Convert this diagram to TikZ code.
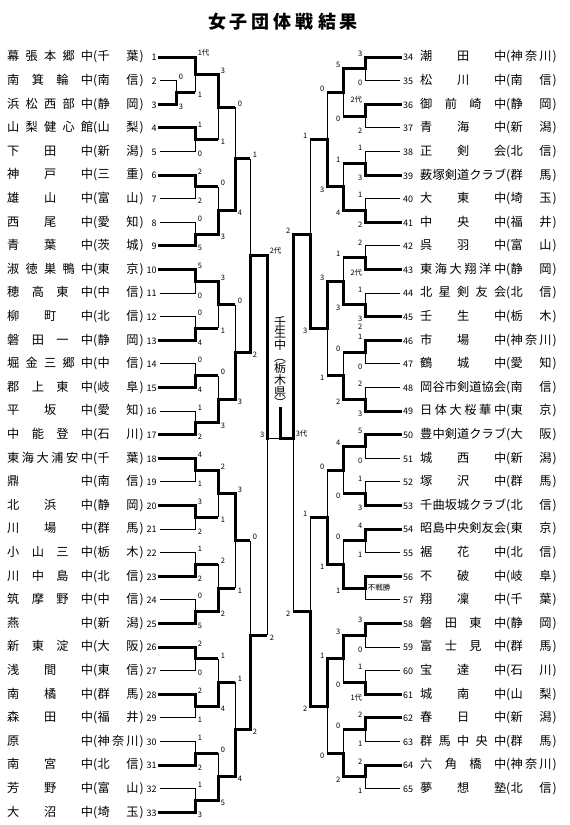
\documentclass[tikz,border=0pt]{standalone}
\usepackage{fontspec}
\newfontfamily\jp{Noto Sans CJK JP}
\usetikzlibrary{positioning}
\makeatletter
\newcommand\spreadbox[2]{\hbox to #1{\expandafter\spread@first#2\relax}}
\def\spread@first#1{\ifx\relax#1\else#1\expandafter\spread@rest\fi}
\def\spread@rest#1{\ifx\relax#1\else\hfil#1\expandafter\spread@rest\fi}
\makeatother
\newcommand\ry[1]{57+(#1)*23.6}
\newcommand\numfont{\fontsize{9}{9}\selectfont}

\begin{document}
\begin{tikzpicture}[x=1pt, y=-1pt, every node/.style={font=\jp, inner sep=0pt},
  winline/.style={line width=3pt, line cap=rect},
  winflat/.style={line width=3pt},
  loseline/.style={line width=0.8pt},
  teamname/.style={anchor=west, font=\jp\fontsize{12.2}{12.2}\selectfont},
  score/.style={inner sep=0.6pt, font=\jp\fontsize{7.5}{8}\selectfont},
  lup/.style={score, anchor=south west, xshift=2pt},
  ldn/.style={score, anchor=north west, xshift=2pt, yshift=1pt},
  rup/.style={score, anchor=south east, xshift=-2pt},
  rdn/.style={score, anchor=north east, xshift=-2pt, yshift=1pt},
  champ/.style={align=center, font=\jp\fontsize{12}{11.7}\selectfont}]
\useasboundingbox (0,0) rectangle (570,825);

\node[font=\jp\bfseries\fontsize{18}{18}\selectfont] (title) at (283,22) {\spreadbox{150pt}{女子団体戦結果}};

% left teams
\foreach \n/\nm/\pf in {1/幕張本郷中/千葉, 2/南箕輪中/南信, 3/浜松西部中/静岡, 4/山梨健心館/山梨,
    5/下田中/新潟, 6/神戸中/三重, 7/雄山中/富山, 8/西尾中/愛知, 9/青葉中/茨城, 10/淑徳巣鴨中/東京,
    11/穂高東中/中信, 12/柳町中/北信, 13/磐田一中/静岡, 14/堀金三郷中/中信, 15/郡上東中/岐阜,
    16/平坂中/愛知, 17/中能登中/石川, 18/東海大浦安中/千葉, 19/鼎中/南信, 20/北浜中/静岡,
    21/川場中/群馬, 22/小山三中/栃木, 23/川中島中/北信, 24/筑摩野中/中信, 25/燕中/新潟,
    26/新東淀中/大阪, 27/浅間中/東信, 28/南橘中/群馬, 29/森田中/福井, 30/原中/神奈川,
    31/南宮中/北信, 32/芳野中/富山, 33/大沼中/埼玉} {
  \node[teamname] (t\n) at (7,{\ry{\n-1}}) {\hbox{\spreadbox{86pt}{\nm}\hbox to 4.5pt{(\hss}\spreadbox{41pt}{\pf}\hbox to 6pt{\hss)\hss}\hbox to 12pt{\hss\numfont\n}}};
  \coordinate (L\n) at ([xshift=3pt]t\n.east);
}
% right teams
\foreach \n/\nm/\pf in {34/潮田中/神奈川, 35/松川中/南信, 36/御前崎中/静岡, 37/青海中/新潟,
    38/正剣会/北信, 39/薮塚剣道クラブ/群馬, 40/大東中/埼玉, 41/中央中/福井, 42/呉羽中/富山,
    43/東海大翔洋中/静岡, 44/北星剣友会/北信, 45/壬生中/栃木, 46/市場中/神奈川, 47/鶴城中/愛知,
    48/岡谷市剣道協会/南信, 49/日体大桜華中/東京, 50/豊中剣道クラブ/大阪, 51/城西中/新潟,
    52/塚沢中/群馬, 53/千曲坂城クラブ/北信, 54/昭島中央剣友会/東京, 55/裾花中/北信,
    56/不破中/岐阜, 57/翔凜中/千葉, 58/磐田東中/静岡, 59/富士見中/群馬, 60/宝達中/石川,
    61/城南中/山梨, 62/春日中/新潟, 63/群馬中央中/群馬, 64/六角橋中/神奈川, 65/夢想塾/北信} {
  \node[teamname] (r\n) at (403,{\ry{\n-34}}) {\hbox{\hbox to 17pt{\numfont\n\hss}\spreadbox{86pt}{\nm}\hbox to 4.5pt{(\hss}\spreadbox{41pt}{\pf}\hbox to 6pt{\hss)\hss}}};
  \coordinate (R\n) at ([xshift=-3pt]r\n.west);
}

% match points, left
\coordinate (P23) at (176,{\ry{1.5}});
\coordinate (A1) at (195,{\ry{0.75}});
\foreach \k in {2,...,16} \coordinate (A\k) at (195,{\ry{2*\k-0.5}});
\coordinate (B1) at (218,{\ry{2.125}});
\foreach \k in {2,...,8} \coordinate (B\k) at (218,{\ry{4*\k-1.5}});
\coordinate (C1) at (235,{\ry{4.3125}});
\foreach \k in {2,...,4} \coordinate (C\k) at (235,{\ry{8*\k-3.5}});
\coordinate (D1) at (250,{\ry{8.40625}});
\coordinate (D2) at (250,{\ry{24.5}});
\coordinate (E) at (267,438);
\coordinate (F) at (280,438);
% match points, right
\foreach \k in {1,...,16} \coordinate (a\k) at (365,{\ry{2*\k-1.5}});
\foreach \k in {1,...,8} \coordinate (b\k) at (343,{\ry{4*\k-2.5}});
\foreach \k in {1,...,4} \coordinate (c\k) at (327,{\ry{8*\k-4.5}});
\foreach \k in {1,2} \coordinate (d\k) at (310,{\ry{16*\k-8.5}});
\coordinate (e) at (293,438);

% lines of teams that lost their first bout
\foreach \a/\b in {L2/P23, L5/A2, L7/A3, L8/A4, L11/A5, L12/A6, L14/A7, L16/A8, L19/A9, L21/A10,
    L22/A11, L24/A12, L27/A13, L29/A14, L30/A15, L32/A16,
    R35/a1, R37/a2, R38/a3, R40/a4, R42/a5, R44/a6, R47/a7, R48/a8, R51/a9, R52/a10,
    R55/a11, R57/a12, R59/a13, R60/a14, R63/a15, R65/a16}
  \draw[loseline] (\a) -| (\b);
% winners
\foreach \a/\b in {L3/P23, L1/A1, L4/A2, L6/A3, L9/A4, L10/A5, L13/A6, L15/A7, L17/A8, L18/A9,
    L20/A10, L23/A11, L25/A12, L26/A13, L28/A14, L31/A15, L33/A16,
    A1/B1, A4/B2, A5/B3, A8/B4, A9/B5, A12/B6, A14/B7, A16/B8,
    B2/C1, B4/C2, B5/C3, B8/C4, C2/D1, C4/D2, D1/E,
    R34/a1, R36/a2, R39/a3, R41/a4, R43/a5, R45/a6, R46/a7, R49/a8, R50/a9, R53/a10,
    R54/a11, R56/a12, R58/a13, R61/a14, R62/a15, R64/a16,
    a1/b1, a4/b2, a6/b3, a8/b4, a9/b5, a12/b6, a13/b7, a16/b8,
    b2/c1, b3/c2, b6/c3, b7/c4, c2/d1, c4/d2, d1/e}
  \draw[winline] (\a) -| (\b);
% won before, lost here
\foreach \a/\b in {P23/A1, A2/B1, A3/B2, A6/B3, A7/B4, A10/B5, A11/B6, A13/B7, A15/B8,
    B1/C1, B3/C2, B6/C3, B7/C4, C1/D1, C3/D2, D2/E,
    a2/b1, a3/b2, a5/b3, a7/b4, a10/b5, a11/b6, a14/b7, a15/b8,
    b1/c1, b4/c2, b5/c3, b8/c4, c1/d1, c3/d2, d2/e} {
  \draw[winflat] (\a) -- (\a -| \b);
  \draw[loseline] (\a -| \b) -- (\b);
}

% final
\node[champ] (champ) at (280,362) {壬\\生\\中\\︵\\栃\\木\\県\\︶};
\draw[loseline] (E) -- (F);
\draw[winline] (e) -- (F) -- (champ);

% scores
\foreach \a/\b/\t in {L2/P23/0, L1/A1/1代, L4/A2/1, L6/A3/2, L8/A4/0, L10/A5/5, L12/A6/0, L14/A7/0,
    L16/A8/1, L18/A9/4, L20/A10/3, L22/A11/1, L24/A12/0, L26/A13/2, L28/A14/2, L30/A15/1, L32/A16/1,
    A1/B1/3, A3/B2/0, A5/B3/3, A7/B4/0, A9/B5/2, A11/B6/2, A13/B7/1, A15/B8/0,
    B1/C1/0, B3/C2/0, B5/C3/3, B7/C4/1, C1/D1/1, C3/D2/0, D1/E/2代}
  \node[lup] (s-\a-\b) at (\a -| \b) {\t};
\foreach \a/\b/\t in {L3/P23/3, P23/A1/1, L5/A2/0, L7/A3/2, L9/A4/5, L11/A5/0, L13/A6/4, L15/A7/4,
    L17/A8/2, L19/A9/1, L21/A10/2, L23/A11/2, L25/A12/5, L27/A13/0, L29/A14/1, L31/A15/2, L33/A16/3,
    A2/B1/1, A4/B2/3, A6/B3/1, A8/B4/3, A10/B5/1, A12/B6/2, A14/B7/4, A16/B8/5,
    B2/C1/4, B4/C2/3, B6/C3/1, B8/C4/4, C2/D1/2, C4/D2/2, D2/E/2}
  \node[ldn] (s-\a-\b) at (\a -| \b) {\t};
\foreach \a/\b/\t in {R34/a1/3, R36/a2/2代, R38/a3/1, R40/a4/1, R42/a5/2, R44/a6/1, R46/a7/1,
    R48/a8/2, R50/a9/5, R52/a10/1, R54/a11/4, R58/a13/3, R60/a14/1, R62/a15/2, R64/a16/2,
    a1/b1/5, a3/b2/1, a5/b3/1, a7/b4/0, a9/b5/4, a11/b6/0, a13/b7/3, a15/b8/0,
    b1/c1/0, b3/c2/3, b5/c3/0, b7/c4/1, c1/d1/1, c3/d2/1, d1/e/2}
  \node[rup] (s-\a-\b) at (\a -| \b) {\t};
\foreach \a/\b/\t in {R35/a1/0, R37/a2/2, R39/a3/3, R41/a4/2, R43/a5/2代, R45/a6/3, R47/a7/0,
    R49/a8/3, R51/a9/0, R53/a10/3, R55/a11/1, R59/a13/0, R61/a14/1代, R63/a15/1, R65/a16/1,
    a2/b1/0, a4/b2/4, a6/b3/3, a8/b4/2, a10/b5/0, a12/b6/1, a14/b7/0, a16/b8/2,
    b2/c1/3, b4/c2/1, b6/c3/1, b8/c4/0, c2/d1/3, c4/d2/2, d2/e/2}
  \node[rdn] (s-\a-\b) at (\a -| \b) {\t};
\node[rdn, yshift=-8pt] (s45b) at (R45 -| a6) {2};
\node[score, anchor=west] (bye) at (367,{\ry{22.5}}) {不戦勝};
\node[score, anchor=south east, xshift=-2pt] (fin-l) at (E) {3};
\node[score, anchor=south west, xshift=2pt] (fin-r) at (e) {3代};
\end{tikzpicture}
\end{document}
